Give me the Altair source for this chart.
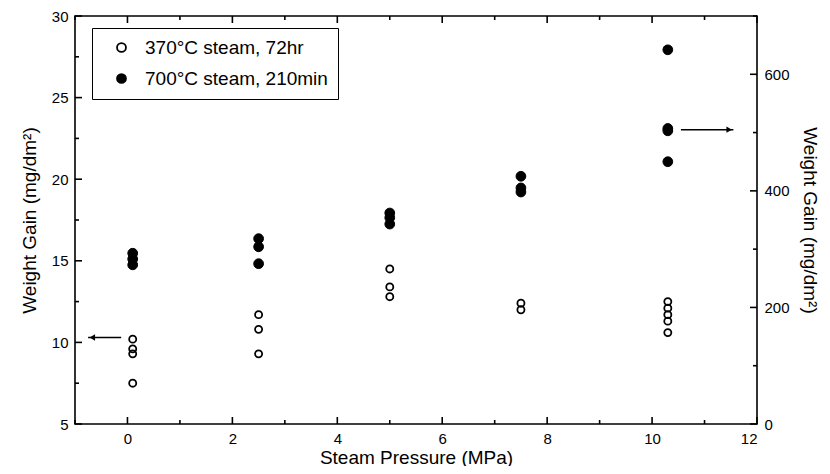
import altair as alt
import pandas as pd

# ---- data ----
legend_labels = ["370°C steam, 72hr", "700°C steam, 210min"]

pressure_370 = [0.1, 0.1, 0.1, 0.1,
                2.5, 2.5, 2.5,
                5.0, 5.0, 5.0,
                7.5, 7.5,
                10.3, 10.3, 10.3, 10.3, 10.3]
gain_370 = [10.2, 9.6, 9.3, 7.5,
            11.7, 10.8, 9.3,
            14.5, 13.4, 12.8,
            12.4, 12.0,
            12.5, 12.1, 11.7, 11.3, 10.6]

pressure_700 = [0.1, 0.1, 0.1,
                2.5, 2.5, 2.5,
                5.0, 5.0, 5.0,
                7.5, 7.5, 7.5,
                10.3, 10.3, 10.3, 10.3]
gain_700 = [293, 283, 273,
            318, 304, 275,
            362, 354, 343,
            425, 405, 398,
            642, 507, 503, 450]

# arrows (annotation): left arrow on left axis scale, right arrow on right axis scale
arrow_left_x = [-0.75, -0.12]
arrow_left_y = 10.3
arrow_right_x = [10.55, 11.55]
arrow_right_y = 505

x_major = [0, 2, 4, 6, 8, 10, 12]
x_minor = [-1, 1, 3, 5, 7, 9, 11]
yl_major = [5, 10, 15, 20, 25, 30]
yl_minor = [7.5, 12.5, 17.5, 22.5, 27.5]
yr_major = [0, 200, 400, 600]
yr_minor = [100, 300, 500, 700]

W, H = 682, 408
MAJ, MIN = 7, 4

df370 = pd.DataFrame({"p": pressure_370, "g": gain_370, "series": legend_labels[0]})
df700 = pd.DataFrame({"p": pressure_700, "g": gain_700, "series": legend_labels[1]})
arrL = pd.DataFrame({"x1": [arrow_left_x[0]], "x2": [arrow_left_x[1]], "y": [arrow_left_y],
                     "hx": [arrow_left_x[0] + 0.08]})
arrR = pd.DataFrame({"x1": [arrow_right_x[0]], "x2": [arrow_right_x[1]], "y": [arrow_right_y],
                     "hx": [arrow_right_x[1] - 0.08]})

FONT = "Liberation Sans"
xs = alt.Scale(domain=[-1, 12], nice=False, zero=False)
yls = alt.Scale(domain=[5, 30], nice=False, zero=False)
yrs = alt.Scale(domain=[0, 700], nice=False, zero=False)
fill_scale = alt.Scale(domain=legend_labels, range=["transparent", "black"])


def label_axis(orient, values, title, title_pad):
    return alt.Axis(orient=orient, values=values, ticks=False, domain=False, grid=False,
                    labelFont=FONT, labelFontSize=15, labelColor="black", labelPadding=7,
                    title=title, titleFont=FONT, titleFontSize=19, titleFontWeight="normal",
                    titleColor="black", titlePadding=title_pad)


open_pts = alt.Chart(df370).mark_point(filled=True, stroke="black", strokeWidth=1.8,
                                       size=50, opacity=1).encode(
    x=alt.X("p:Q", scale=xs, axis=label_axis("bottom", x_major, "Steam Pressure (MPa)", 2)),
    y=alt.Y("g:Q", scale=yls, axis=label_axis("left", yl_major, "Weight Gain (mg/dm²)", 12)),
    fill=alt.Fill("series:N", scale=fill_scale,
                  legend=alt.Legend(title=None, orient="none", legendX=17, legendY=12,
                                    strokeColor="black", padding=10, symbolOffset=10,
                                    labelOffset=14, labelFont=FONT, labelFontSize=19,
                                    labelLimit=400,
                                    labelColor="black", symbolStrokeColor="black",
                                    symbolStrokeWidth=1.8, symbolSize=80, rowPadding=11,
                                    symbolType="circle", fillColor="white")),
)

filled_pts = alt.Chart(df700).mark_point(filled=True, stroke="black", strokeWidth=1,
                                         size=95, opacity=1).encode(
    x=alt.X("p:Q", scale=xs, axis=None),
    y=alt.Y("g:Q", scale=yrs, axis=label_axis("right", yr_major, "Weight Gain (mg/dm²)", 10)),
    fill=alt.Fill("series:N", scale=fill_scale),
)


# inward tick marks, placed through the scales from the tick-value lists
def xticks(values, length, top):
    d = pd.DataFrame({"v": values})
    y0, y1 = (0, length) if top else (H, H - length)
    return alt.Chart(d).mark_rule(color="black", strokeWidth=1.6).encode(
        x=alt.X("v:Q", scale=xs, axis=None), y=alt.value(y0), y2=alt.value(y1))


def yticks(values, scale, length, right):
    d = pd.DataFrame({"v": values})
    x0, x1 = (W, W - length) if right else (0, length)
    return alt.Chart(d).mark_rule(color="black", strokeWidth=1.6).encode(
        y=alt.Y("v:Q", scale=scale, axis=None), x=alt.value(x0), x2=alt.value(x1))


ticks = [
    xticks(x_major, MAJ, False), xticks(x_minor, MIN, False),
    xticks(x_major, MAJ, True), xticks(x_minor, MIN, True),
    yticks(yl_major, yls, MAJ, False), yticks(yl_minor, yls, MIN, False),
    yticks(yr_major, yrs, MAJ, True), yticks(yr_minor, yrs, MIN, True),
]

arrow_l_line = alt.Chart(arrL).mark_rule(color="black", strokeWidth=1.5).encode(
    x=alt.X("x1:Q", scale=xs, axis=None), x2="x2:Q",
    y=alt.Y("y:Q", scale=yls, axis=None))
arrow_l_head = alt.Chart(arrL).mark_point(shape="triangle-left", filled=True, color="black",
                                          size=40, opacity=1).encode(
    x=alt.X("hx:Q", scale=xs, axis=None), y=alt.Y("y:Q", scale=yls, axis=None))
arrow_r_line = alt.Chart(arrR).mark_rule(color="black", strokeWidth=1.5).encode(
    x=alt.X("x1:Q", scale=xs, axis=None), x2="x2:Q",
    y=alt.Y("y:Q", scale=yrs, axis=None))
arrow_r_head = alt.Chart(arrR).mark_point(shape="triangle-right", filled=True, color="black",
                                          size=40, opacity=1).encode(
    x=alt.X("hx:Q", scale=xs, axis=None), y=alt.Y("y:Q", scale=yrs, axis=None))

chart = alt.layer(
    *ticks, arrow_l_line, arrow_l_head, arrow_r_line, arrow_r_head,
    open_pts, filled_pts,
).resolve_scale(y="independent", x="independent").resolve_axis(
    x="independent", y="independent"
).properties(
    width=W, height=H,
    autosize=alt.AutoSizeParams(type="none"),
    padding={"left": 67, "top": 8, "right": 65, "bottom": 42},
    background="white",
).configure_view(stroke="black", strokeWidth=1.6)

chart.save("out.html", embed_options={"renderer": "svg", "actions": False})
